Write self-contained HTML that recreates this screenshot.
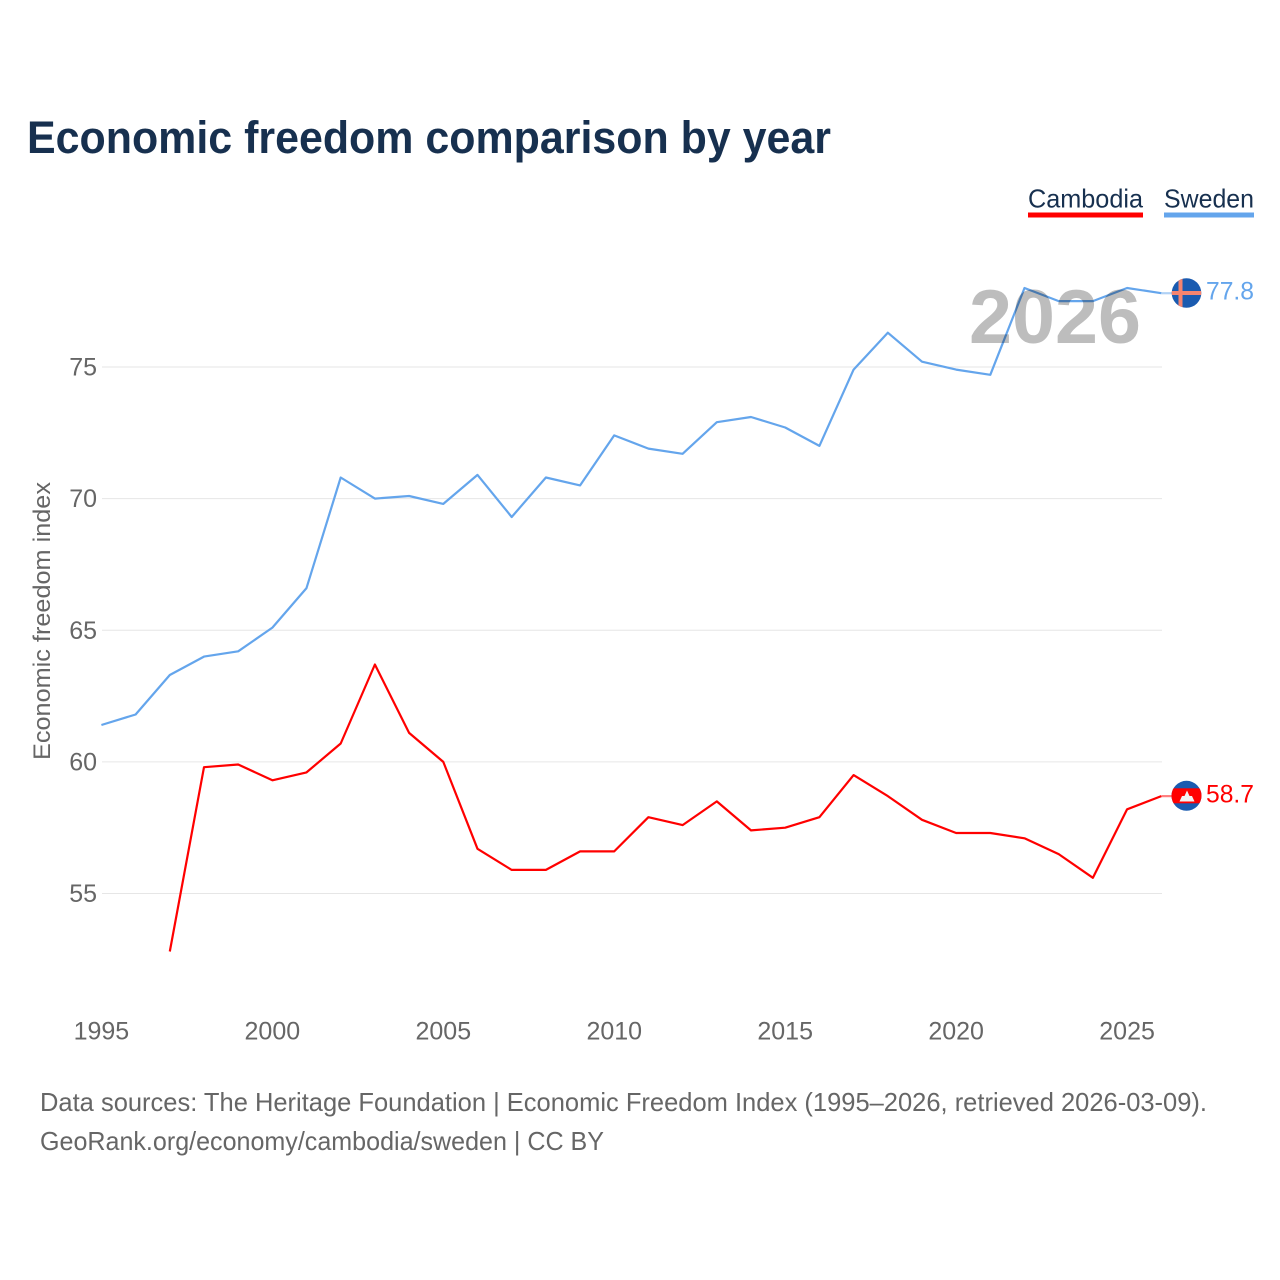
<!DOCTYPE html>
<html>
<head>
<meta charset="utf-8">
<style>
html,body{margin:0;padding:0;background:#fff}
svg{display:block;font-family:"Liberation Sans",sans-serif}
</style>
</head>
<body>
<svg id="chart" xmlns="http://www.w3.org/2000/svg" width="1280" height="1280" viewBox="0 0 1280 1280">
  <defs>
    <clipPath id="clip-se"><circle cx="1186.5" cy="293" r="14.8"/></clipPath>
    <clipPath id="clip-kh"><circle cx="1186.5" cy="795.8" r="15"/></clipPath>
  </defs>
  <rect width="1280" height="1280" fill="#fff"/>
  <text x="27" y="153" font-size="45" font-weight="700" fill="#17304f" textLength="804" lengthAdjust="spacingAndGlyphs">Economic freedom comparison by year</text>
  <g id="grid"></g>
  <g id="yticks"></g>
  <g id="xticks"></g>
  <text transform="translate(50 621) rotate(-90)" text-anchor="middle" font-size="24" fill="#666" textLength="278" lengthAdjust="spacingAndGlyphs">Economic freedom index</text>
  <g id="series"></g>
  <text x="969" y="343" font-size="76" font-weight="700" fill="#bdbdbd" style="mix-blend-mode:multiply" textLength="172" lengthAdjust="spacingAndGlyphs">2026</text>

  <g>
    <text x="1028" y="207.5" font-size="26" fill="#17304f" textLength="115" lengthAdjust="spacingAndGlyphs">Cambodia</text>
    <rect x="1028" y="212.5" width="115" height="5" fill="#ff0000"/>
  </g>
  <g>
    <text x="1164" y="207.5" font-size="26" fill="#17304f" textLength="90" lengthAdjust="spacingAndGlyphs">Sweden</text>
    <rect x="1164" y="212.5" width="90" height="5" fill="#64a5ec"/>
  </g>

  <g clip-path="url(#clip-se)">
    <rect x="1171" y="277" width="31" height="32" fill="#1a5bb0"/>
    <rect x="1178.5" y="277" width="4" height="32" fill="#f5846f"/>
    <rect x="1171" y="291" width="31" height="4" fill="#f5846f"/>
  </g>
  <g clip-path="url(#clip-kh)">
    <rect x="1171" y="780" width="31" height="32" fill="#1a5bb0"/>
    <rect x="1171" y="788.3" width="31" height="15" fill="#ff0000"/>
    <path d="M1179.5 801.5 L1182 796 L1184.5 796 L1187 790.5 L1189.5 796 L1192 796 L1194.5 801.5 Z" fill="#f2f2f2"/>
  </g>
  <text x="1206" y="299.5" font-size="25" fill="#64a5ec" textLength="48" lengthAdjust="spacingAndGlyphs">77.8</text>
  <text x="1206" y="802.5" font-size="25" fill="#ff0000" textLength="48" lengthAdjust="spacingAndGlyphs">58.7</text>

  <text x="40" y="1111" font-size="26" fill="#666" textLength="1167" lengthAdjust="spacingAndGlyphs">Data sources: The Heritage Foundation | Economic Freedom Index (1995–2026, retrieved 2026-03-09).</text>
  <text x="40" y="1150" font-size="26" fill="#666" textLength="564" lengthAdjust="spacingAndGlyphs">GeoRank.org/economy/cambodia/sweden | CC BY</text>
</svg>
<script>
const years = [1995,1996,1997,1998,1999,2000,2001,2002,2003,2004,2005,2006,2007,2008,2009,2010,2011,2012,2013,2014,2015,2016,2017,2018,2019,2020,2021,2022,2023,2024,2025,2026];
const swedenValues = [61.4,61.8,63.3,64.0,64.2,65.1,66.6,70.8,70.0,70.1,69.8,70.9,69.3,70.8,70.5,72.4,71.9,71.7,72.9,73.1,72.7,72.0,74.9,76.3,75.2,74.9,74.7,78.0,77.5,77.5,78.0,77.8];
const cambodiaValues = [null,null,52.8,59.8,59.9,59.3,59.6,60.7,63.7,61.1,60.0,56.7,55.9,55.9,56.6,56.6,57.9,57.6,58.5,57.4,57.5,57.9,59.5,58.7,57.8,57.3,57.3,57.1,56.5,55.6,58.2,58.7];
const yTickValues = [55,60,65,70,75];
const xTickValues = [1995,2000,2005,2010,2015,2020,2025];

const NS = 'http://www.w3.org/2000/svg';
function xScale(year){ return 101.4 + (year - 1995) * 34.19; }
function yScale(value){ return 761.9 - (value - 60) * 26.33; }
function make(tag, attrs, parent){
  const el = document.createElementNS(NS, tag);
  for (const k in attrs) el.setAttribute(k, attrs[k]);
  parent.appendChild(el);
  return el;
}

const grid = document.getElementById('grid');
const yticks = document.getElementById('yticks');
const xticks = document.getElementById('xticks');
const seriesGroup = document.getElementById('series');

yTickValues.forEach(function(v){
  const line = make('line', {x1:102, x2:1162, y1:yScale(v), y2:yScale(v), stroke:'#e6e6e6', 'stroke-width':1}, grid);
  
  
  const t = make('text', {x:97, y:yScale(v) + 8.5, 'text-anchor':'end', 'font-size':25, fill:'#666'}, yticks);
  t.textContent = String(v);
  
  
});

xTickValues.forEach(function(v){
  const t = make('text', {x:xScale(v), y:1039.5, 'text-anchor':'middle', 'font-size':25, fill:'#666'}, xticks);
  t.textContent = String(v);
  
  
});

function drawSeries(name, values, color){
  const pts = [];
  values.forEach(function(v, i){
    if (v !== null) pts.push(xScale(years[i]).toFixed(1) + ',' + yScale(v).toFixed(1));
  });
  const line = make('polyline', {points:pts.join(' '), fill:'none', stroke:color, 'stroke-width':2.2, 'stroke-linejoin':'round'}, seriesGroup);
  
  
  const last = values[values.length - 1];
  const lastYear = years[years.length - 1];
  const conn = make('line', {x1:xScale(lastYear), x2:1172, y1:yScale(last), y2:yScale(last), stroke:color, 'stroke-width':2.2, opacity:0.5}, seriesGroup);
  
  
}
drawSeries('cambodia', cambodiaValues, '#ff0000');
drawSeries('sweden', swedenValues, '#64a5ec');
</script>
</body>
</html>
